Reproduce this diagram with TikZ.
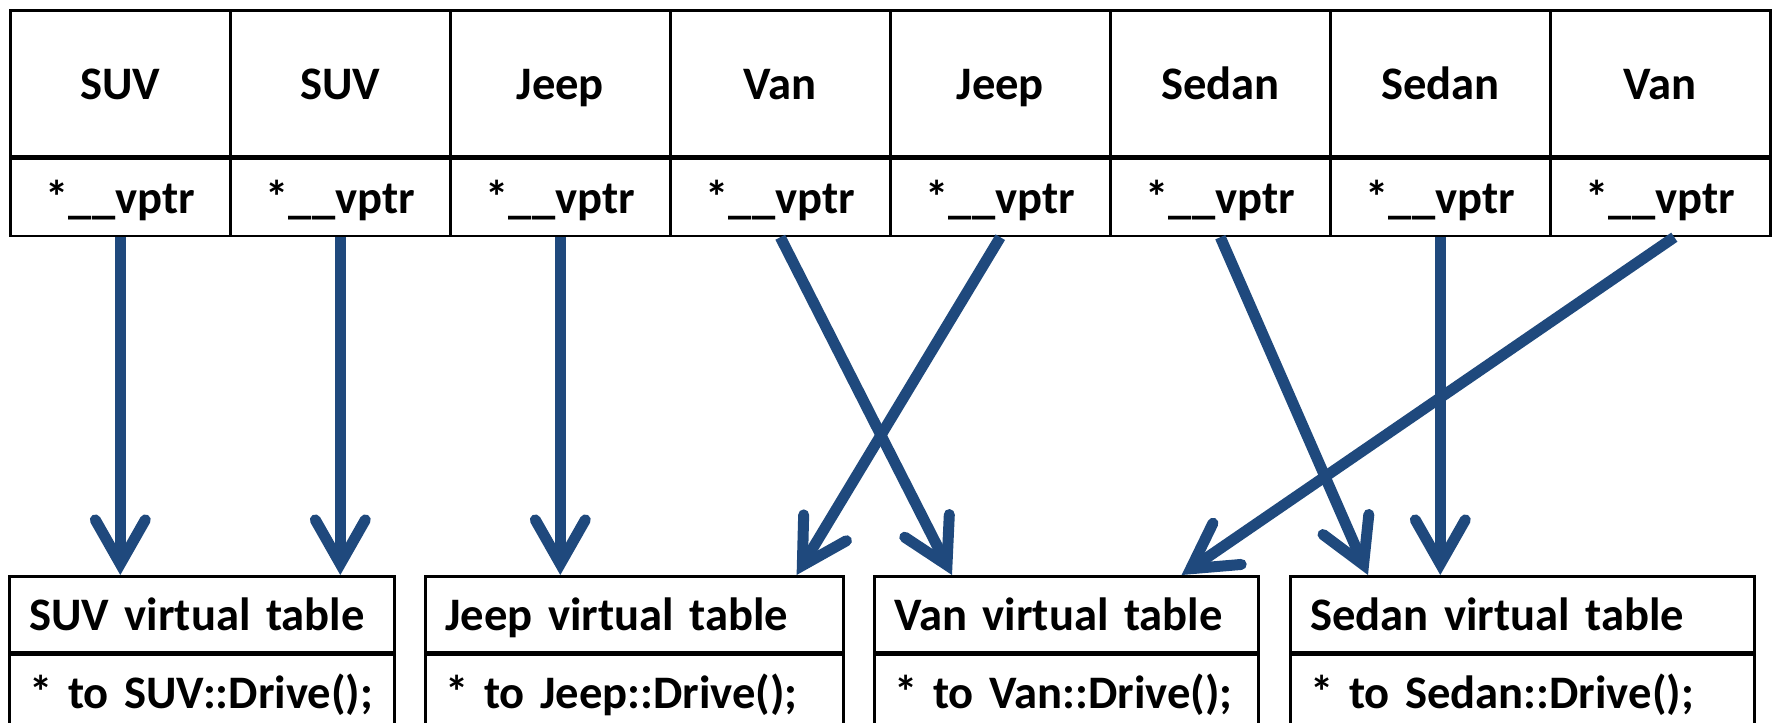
\documentclass[tikz,border=0pt]{standalone}
\usepackage{fontspec}
\setmainfont{Carlito}[WordSpace=0.8]
\usetikzlibrary{arrows.meta}
\definecolor{ptrblue}{RGB}{31,73,125}

\begin{document}
\begin{tikzpicture}[x=0.5pt, y=-0.5pt, font=\fontsize{23.3}{28}\selectfont\bfseries,
    cell/.style={draw, line width=1.3pt, inner sep=0pt, minimum width=110pt, text height=17pt, text depth=1pt},
    vtab/.style={draw, line width=1.3pt, inner ysep=0pt, inner xsep=10pt, align=left, minimum height=38pt, text height=17pt, text depth=1pt,
      execute at begin node={\hbox\bgroup}, execute at end node={\egroup}},
    ptr/.style={draw=ptrblue, line width=5.5pt, -{Straight Barb[length=22pt, width=25pt, line cap=round, line join=miter]}}]
  \useasboundingbox (0,0) rectangle (1773,723);
  \clip (0,0) rectangle (1773,723);

  % 1. objects with their vptr
  \foreach \lbl [count=\i] in {SUV,SUV,Jeep,Van,Jeep,Sedan,Sedan,Van} {
    \node[cell, minimum height=73pt, anchor=north west] (n\i) at ({9+220*(\i-1)},9) {\lbl};
    \node[cell, minimum height=38.5pt, anchor=north] (v\i) at (n\i.south) {*\_\_vptr};
  }

  % 2. virtual tables (second row runs past the lower edge)
  \node[vtab, text width=172.5pt, anchor=north west] (t1) at (8,575) {SUV virtual table};
  \node[vtab, text width=189pt, anchor=north west] (t2) at (424,575) {Jeep virtual table};
  \node[vtab, text width=172pt, anchor=north west] (t3) at (873,575) {Van virtual table};
  \node[vtab, text width=212pt, anchor=north west] (t4) at (1289,575) {Sedan virtual table};
  \node[vtab, text width=172.5pt, anchor=north] (e1) at (t1.south) {* to SUV::Drive();};
  \node[vtab, text width=189pt, anchor=north] (e2) at (t2.south) {* to Jeep::Drive();};
  \node[vtab, text width=172pt, anchor=north] (e3) at (t3.south) {* to Van::Drive();};
  \node[vtab, text width=212pt, anchor=north] (e4) at (t4.south) {* to Sedan::Drive();};

  % 3. pointers
  \draw[ptr] (v1.south) -- (v1.south |- t1.north);
  \draw[ptr] (v2.south) -- (v2.south |- t1.north);
  \draw[ptr] (v3.south) -- (v3.south |- t2.north);
  \draw[ptr] (v4.south) -- ([xshift=39.5pt]t3.north west);
  \draw[ptr] (v5.south) -- ([xshift=-24pt]t2.north east);
  \draw[ptr] (v6.south) -- ([xshift=39.5pt]t4.north west);
  \draw[ptr] (v7.south) -- (v7.south |- t4.north);
  \draw[ptr] ([xshift=7pt]v8.south) -- ([xshift=-39pt]t3.north east);
\end{tikzpicture}
\end{document}
